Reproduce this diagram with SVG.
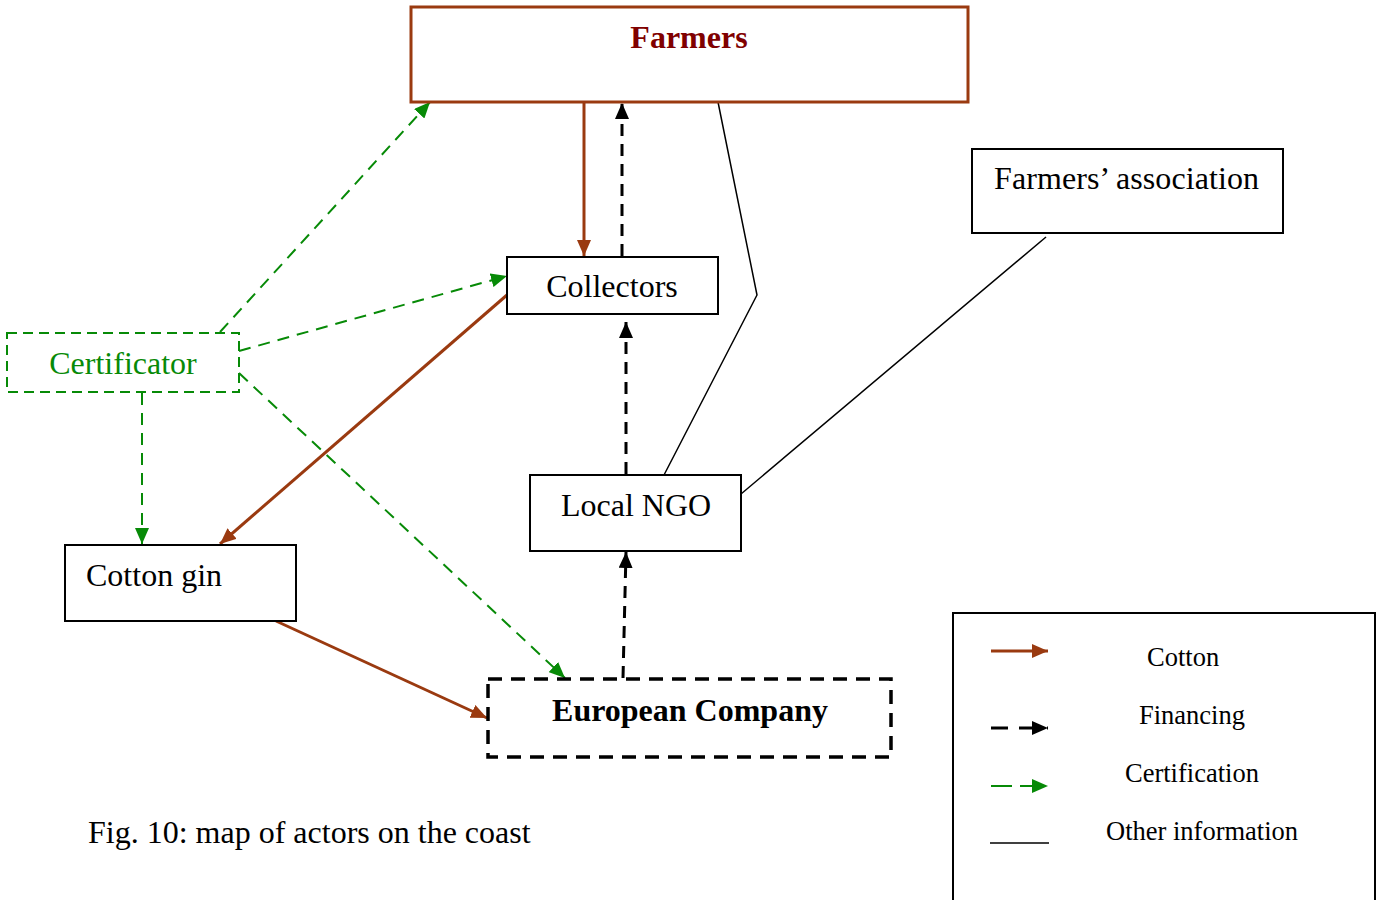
<svg xmlns="http://www.w3.org/2000/svg" width="1376" height="900" viewBox="0 0 1376 900">
<style>
.box{fill:#fff;stroke:#000;stroke-width:2}
.t{font-family:"Liberation Serif",serif;font-size:32px;fill:#000}
.lt{font-family:"Liberation Serif",serif;font-size:26.5px;fill:#000}
.cot{stroke:#9a3a10;stroke-width:3;fill:none}
.fin{stroke:#000;stroke-width:3;fill:none;stroke-dasharray:12 8}
.cer{stroke:#078a07;stroke-width:2;fill:none;stroke-dasharray:12 8}
.oth{stroke:#000;stroke-width:1.5;fill:none}
</style>
<defs>
<marker id="ac" markerUnits="userSpaceOnUse" markerWidth="18" markerHeight="14" refX="16" refY="7" orient="auto"><path d="M0,0 L16,7 L0,14 Z" fill="#9a3a10"/></marker>
<marker id="af" markerUnits="userSpaceOnUse" markerWidth="18" markerHeight="14" refX="16" refY="7" orient="auto"><path d="M0,0 L16,7 L0,14 Z" fill="#000"/></marker>
<marker id="ag" markerUnits="userSpaceOnUse" markerWidth="18" markerHeight="14" refX="16" refY="7" orient="auto"><path d="M0,0 L16,7 L0,14 Z" fill="#078a07"/></marker>
</defs>
<rect width="1376" height="900" fill="#fff"/>
<g id="connectors">
<line class="cot" x1="584" y1="102" x2="584" y2="256" marker-end="url(#ac)"/>
<line class="fin" x1="622" y1="256" x2="622" y2="103" marker-end="url(#af)"/>
<line class="fin" x1="626" y1="474" x2="626" y2="322" marker-end="url(#af)"/>
<line class="fin" x1="623" y1="678" x2="626" y2="552" marker-end="url(#af)"/>
<line class="cot" x1="507" y1="295" x2="220" y2="544" marker-end="url(#ac)"/>
<line class="cot" x1="276" y1="621" x2="487" y2="718" marker-end="url(#ac)"/>
<line class="cer" x1="220" y1="332" x2="430" y2="102" marker-end="url(#ag)"/>
<line class="cer" x1="239" y1="351" x2="507" y2="276" marker-end="url(#ag)"/>
<line class="cer" x1="142" y1="393" x2="142" y2="544" marker-end="url(#ag)"/>
<line class="cer" x1="239" y1="373" x2="565" y2="678" marker-end="url(#ag)"/>
<polyline class="oth" points="718,102 757,295 664,475"/>
<line class="oth" x1="741" y1="494" x2="1046" y2="237"/>
</g>
<g id="farmers">
<rect x="411" y="7" width="557" height="95" fill="#fff" stroke="#9a3a10" stroke-width="3"/>
<text x="689" y="48" text-anchor="middle" class="t" style="font-weight:bold;fill:#800000">Farmers</text>
</g>
<g id="farmers-association">
<rect class="box" x="972" y="149" width="311" height="84"/>
<text x="994" y="189" class="t" textLength="265">Farmers’ association</text>
</g>
<g id="collectors">
<rect class="box" x="507" y="257" width="211" height="57"/>
<text x="612" y="297" text-anchor="middle" class="t">Collectors</text>
</g>
<g id="certificator">
<rect x="7" y="333" width="232" height="59" fill="#fff" stroke="#078a07" stroke-width="2" stroke-dasharray="10 6"/>
<text x="123" y="374" text-anchor="middle" class="t" style="fill:#078a07">Certificator</text>
</g>
<g id="local-ngo">
<rect class="box" x="530" y="475" width="211" height="76"/>
<text x="561" y="516" class="t">Local NGO</text>
</g>
<g id="cotton-gin">
<rect class="box" x="65" y="545" width="231" height="76"/>
<text x="86" y="586" class="t">Cotton gin</text>
</g>
<g id="european-company">
<rect x="488" y="679" width="403" height="78" fill="#fff" stroke="#000" stroke-width="3.5" stroke-dasharray="14 9"/>
<text x="690" y="721" text-anchor="middle" class="t" style="font-weight:bold">European Company</text>
</g>
<g id="legend">
<rect x="953" y="613" width="422" height="295" fill="#fff" stroke="#000" stroke-width="2"/>
<line class="cot" x1="991" y1="651" x2="1048" y2="651" marker-end="url(#ac)"/>
<line class="fin" x1="991" y1="728" x2="1048" y2="728" marker-end="url(#af)" style="stroke-dasharray:17 11"/>
<line class="cer" x1="991" y1="786" x2="1048" y2="786" marker-end="url(#ag)" style="stroke-dasharray:21 8"/>
<line class="oth" x1="990" y1="843" x2="1049" y2="843"/>
<text x="1147" y="666" class="lt">Cotton</text>
<text x="1139" y="724" class="lt">Financing</text>
<text x="1125" y="782" class="lt">Certification</text>
<text x="1106" y="840" class="lt">Other information</text>
</g>
<text x="88" y="843" class="t">Fig. 10: map of actors on the coast</text>
</svg>
